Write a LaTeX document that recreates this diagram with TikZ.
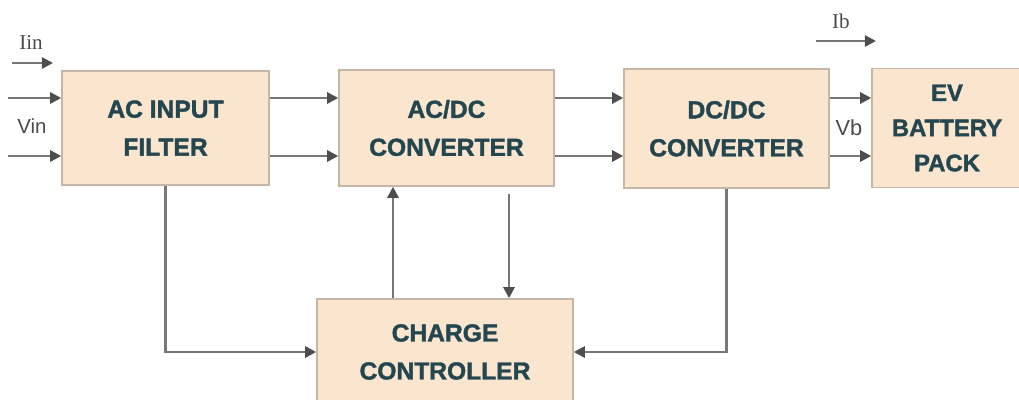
\documentclass[tikz,border=0pt]{standalone}
\usepackage{fontspec}
\setmainfont{Liberation Sans}
\newfontfamily\lblserif{Liberation Serif}
\newfontfamily\blockfont{Liberation Sans}[BoldFeatures={FakeBold=1.6}]
\usepackage{xcolor}
\usetikzlibrary{positioning,arrows.meta}
\definecolor{boxfill}{HTML}{FAE5CF}
\definecolor{boxline}{HTML}{C6B6A6}
\definecolor{boxtext}{HTML}{24464F}
\definecolor{wire}{HTML}{777777}
\definecolor{tipcol}{HTML}{4E4E4E}
\definecolor{lbl}{HTML}{4A4A4A}

\begin{document}
\begin{tikzpicture}[x=0.025cm,y=-0.025cm,
    block/.style={draw=boxline, line width=1pt, fill=boxfill, text=boxtext,
      align=center, inner sep=0pt,
      font=\blockfont\fontsize{17.5}{27}\selectfont\bfseries},
    arr/.style={draw=wire, line width=1.8pt,
      -{Triangle[length=8pt,width=8pt,color=tipcol]}},
    sig/.style={text=lbl, font=\fontsize{14.5}{16}\selectfont}]
  \useasboundingbox (0,0) rectangle (1019,400);
  % blocks
  \node[block, minimum width=5.175cm, minimum height=2.85cm] (filt) at (165.5,128) {AC INPUT\\FILTER};
  \node[block, minimum width=5.375cm, minimum height=2.9cm] (acdc) at (446.5,128) {AC/DC\\CONVERTER};
  \node[block, minimum width=5.125cm, minimum height=2.975cm] (dcdc) at (726.5,128.5) {DC/DC\\CONVERTER};
  \node[block, minimum width=3.75cm, minimum height=2.975cm,
    font=\blockfont\fontsize{17}{25}\selectfont\bfseries] (batt) at (947,128) {EV\\BATTERY\\PACK};
  \node[block, minimum width=6.4cm, minimum height=2.65cm] (ctrl) at (445,352) {CHARGE\\CONTROLLER};
  % helper coordinates
  \coordinate (ya) at (0,98);
  \coordinate (yb) at (0,156);
  \coordinate (xup) at (393,0);
  \coordinate (xdn) at (509,0);
  \coordinate (vina) at (8,98);
  \coordinate (vinb) at (8,156);
  \coordinate (iinA) at (12,63);
  \coordinate (iinB) at (53,63);
  \coordinate (ibA) at (816,41);
  \coordinate (ibB) at (876,41);
  % inputs
  \draw[arr] (iinA) -- (iinB);
  \node[sig, font=\lblserif\fontsize{15}{18}\selectfont] (iin) at (31,43) {Iin};
  \draw[arr] (vina) -- (filt.west |- ya);
  \draw[arr] (vinb) -- (filt.west |- yb);
  \node[sig] (vin) at (32,126) {Vin};
  % forward path
  \draw[arr] (filt.east |- ya) -- (acdc.west |- ya);
  \draw[arr] (filt.east |- yb) -- (acdc.west |- yb);
  \draw[arr] (acdc.east |- ya) -- (dcdc.west |- ya);
  \draw[arr] (acdc.east |- yb) -- (dcdc.west |- yb);
  \draw[arr] (dcdc.east |- ya) -- (batt.west |- ya);
  \draw[arr] (dcdc.east |- yb) -- (batt.west |- yb);
  \node[sig, font=\fontsize{15.5}{17}\selectfont] (vb) at (849,128) {Vb};
  \draw[arr] (ibA) -- (ibB);
  \node[sig, font=\lblserif\fontsize{15}{18}\selectfont] (ib) at (841,21) {Ib};
  % control loop
  \draw[arr] (filt.south) |- (ctrl.west);
  \draw[arr] (dcdc.south) |- (ctrl.east);
  \draw[arr] (ctrl.north -| xup) -- (acdc.south -| xup);
  \draw[arr, shorten <=5.5pt] (acdc.south -| xdn) -- (ctrl.north -| xdn);
\end{tikzpicture}
\end{document}
